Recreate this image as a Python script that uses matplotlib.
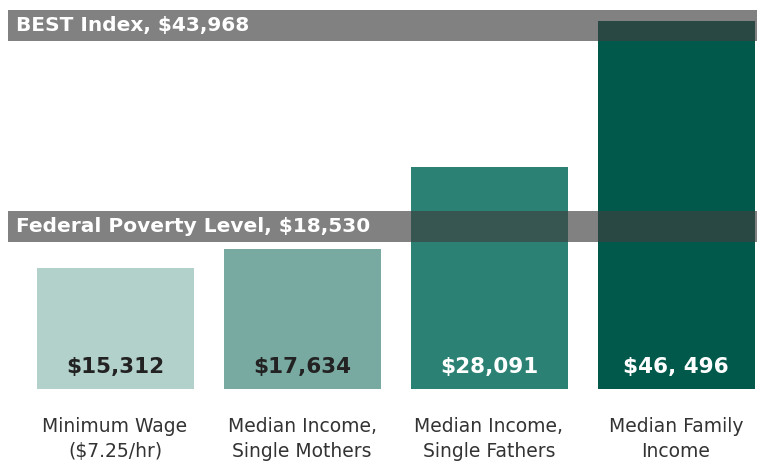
import matplotlib.pyplot as plt

# data
categories = [
    "Minimum Wage\n($7.25/hr)",
    "Median Income,\nSingle Mothers",
    "Median Income,\nSingle Fathers",
    "Median Family\nIncome",
]
incomes = [15312, 17634, 28091, 46496]
value_labels = ["$15,312", "$17,634", "$28,091", "$46, 496"]
bar_colors = ["#b3d1cb", "#79aaa2", "#2b8274", "#00594a"]
label_colors = ["#222222", "#222222", "white", "white"]

ref_names = ["BEST Index, $43,968", "Federal Poverty Level, $18,530"]
ref_values = [43968, 18530]

fig = plt.figure(figsize=(7.57, 4.61), dpi=100)
ax = fig.add_axes([0, 0, 1, 1])

# pixel layout: bar centres 187 px apart, first at 115 px; 126.3 dollars per px
px = 187.0
dpp = 126.3
ax.set_xlim(-115 / px, (757 - 115) / px)
ax.set_ylim(-72 * dpp, 389 * dpp)
ax.axis("off")

x = list(range(len(incomes)))
ax.bar(x, incomes, width=157 / px, color=bar_colors, zorder=2)

for i, v in enumerate(incomes):
    ax.text(i, 22 * dpp, value_labels[i], ha="center", va="center",
            fontsize=15.5, fontweight="bold", color=label_colors[i], zorder=4)
    ax.text(i, -50 * dpp, categories[i], ha="center", va="center",
            fontsize=13.5, color="#333333", linespacing=1.35, zorder=4)

# reference bands sit just above their value
band_h = 31 * dpp
for name, val in zip(ref_names, ref_values):
    ax.barh(val + band_h / 2, (757 - 8) / px, height=band_h,
            left=-107 / px, color="#404040", alpha=0.66, zorder=3)
    ax.text(-99 / px, val + band_h / 2, name, ha="left", va="center",
            fontsize=14.5, fontweight="bold", color="white", zorder=4)

fig.savefig("out.png", dpi=100)
